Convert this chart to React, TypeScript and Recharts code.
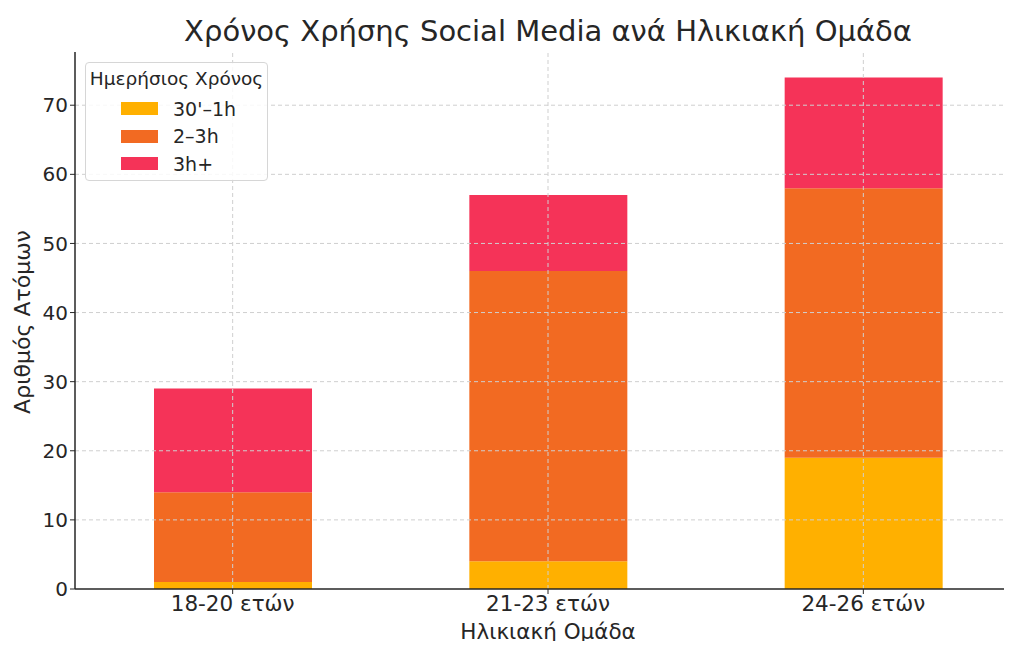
import React from 'react';
import { BarChart, Bar, XAxis, YAxis, ReferenceLine } from 'recharts';

const ageGroups = ['18-20 ετών', '21-23 ετών', '24-26 ετών'];
const shortUse = [1, 4, 19];
const midUse = [13, 42, 39];
const longUse = [15, 11, 16];
const yTicks = [0, 10, 20, 30, 40, 50, 60, 70];

const SERIES = [
  { key: 'short', name: "30'–1h", fill: '#FFB000' },
  { key: 'mid', name: '2–3h', fill: '#F26A22' },
  { key: 'long', name: '3h+', fill: '#F53358' },
];

const FONT = '"DejaVu Sans", sans-serif';
const TEXT = '#262626';
const GRID = '#cfcfcf';

const data = ageGroups.map((group, i) => ({
  group,
  short: shortUse[i],
  mid: midUse[i],
  long: longUse[i],
}));

const LegendBox = () => (
  <div
    style={{
      position: 'absolute',
      left: 85,
      top: 62,
      width: 183,
      height: 119,
      boxSizing: 'border-box',
      border: '1px solid #d6d6d6',
      borderRadius: 4,
      background: 'rgba(255,255,255,0.85)',
      fontFamily: FONT,
      color: TEXT,
    }}
  >
    <div style={{ fontSize: 18.5, textAlign: 'center', marginTop: 5, height: 27 }}>
      Ημερήσιος Χρόνος
    </div>
    {SERIES.map((s) => (
      <div key={s.key} style={{ display: 'flex', alignItems: 'center', height: 27.5 }}>
        <span
          style={{
            display: 'inline-block',
            width: 37,
            height: 13,
            background: s.fill,
            marginLeft: 35,
            marginRight: 15,
          }}
        />
        <span style={{ fontSize: 19 }}>{s.name}</span>
      </div>
    ))}
  </div>
);

export default function App() {
  return (
    <div
      style={{
        width: 1012,
        height: 649,
        margin: -8,
        overflow: 'hidden',
        position: 'relative',
        background: '#fff',
      }}
    >
      <div
        style={{
          position: 'absolute',
          left: 548,
          top: 14,
          transform: 'translateX(-50%)',
          whiteSpace: 'nowrap',
          fontFamily: FONT,
          fontSize: 29,
          color: TEXT,
        }}
      >
        Χρόνος Χρήσης Social Media ανά Ηλικιακή Ομάδα
      </div>
      <div
        style={{
          position: 'absolute',
          left: 22,
          top: 322,
          transform: 'translate(-50%, -50%) rotate(-90deg)',
          whiteSpace: 'nowrap',
          fontFamily: FONT,
          fontSize: 22,
          color: TEXT,
        }}
      >
        Αριθμός Ατόμων
      </div>
      <div
        style={{
          position: 'absolute',
          left: 548,
          top: 619,
          transform: 'translateX(-50%)',
          whiteSpace: 'nowrap',
          fontFamily: FONT,
          fontSize: 21.5,
          lineHeight: '26px',
          color: TEXT,
        }}
      >
        Ηλικιακή Ομάδα
      </div>
      <BarChart
        width={1030}
        height={649}
        data={data}
        margin={{ top: 52, right: 9, bottom: 0, left: 0 }}
      >
        <XAxis
          dataKey="group"
          height={60}
          axisLine={{ stroke: '#262626', strokeWidth: 1.5 }}
          tickLine={{ stroke: '#262626' }}
          tickSize={5}
          tick={{ fill: TEXT, fontSize: 21.5, fontFamily: FONT }}
        />
        <YAxis
          width={75}
          domain={[0, 77.7]}
          ticks={yTicks}
          allowDataOverflow
          axisLine={{ stroke: '#262626', strokeWidth: 1.5 }}
          tickLine={{ stroke: '#262626' }}
          tickSize={5}
          tick={{ fill: TEXT, fontSize: 20, fontFamily: FONT }}
        />
        {SERIES.map((s) => (
          <Bar
            key={s.key}
            dataKey={s.key}
            name={s.name}
            stackId="usage"
            fill={s.fill}
            barSize={158}
            isAnimationActive={false}
          />
        ))}
        {yTicks.slice(1).map((t) => (
          <ReferenceLine key={`h-${t}`} y={t} stroke={GRID} strokeDasharray="4 3" />
        ))}
        {ageGroups.map((g) => (
          <ReferenceLine key={`v-${g}`} x={g} stroke={GRID} strokeDasharray="4 3" />
        ))}
      </BarChart>
      <LegendBox />
    </div>
  );
}
